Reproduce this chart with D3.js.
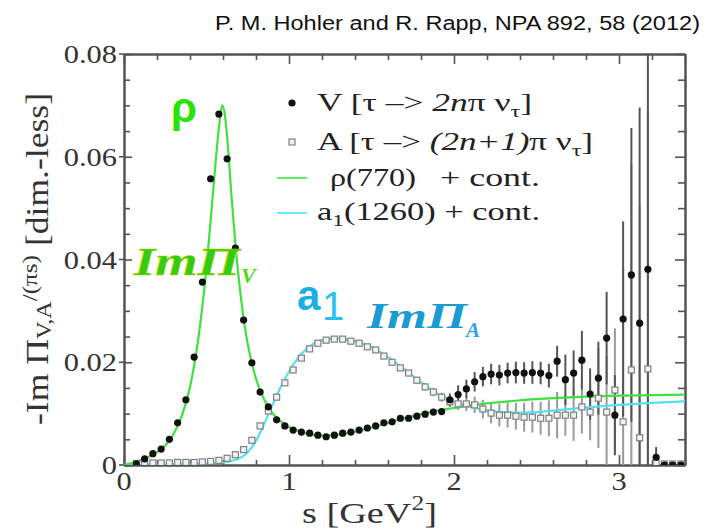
<!DOCTYPE html>
<html>
<head>
<meta charset="utf-8">
<script src="https://cdn.jsdelivr.net/npm/d3@7"></script>
<style>
  html, body { margin: 0; padding: 0; background: #fff; }
  svg { display: block; }
  .serif { font-family: "Liberation Serif", "DejaVu Serif", serif; }
  .sans { font-family: "Liberation Sans", Arial, sans-serif; }
</style>
</head>
<body>
<svg id="chart" width="707" height="531"></svg>
<script>
// Bin centres in s [GeV^2]
const sBins = [0.075,0.125,0.175,0.225,0.275,0.325,0.375,0.425,0.475,0.525,
  0.575,0.625,0.675,0.725,0.775,0.825,0.875,0.925,0.975,1.025,
  1.075,1.125,1.175,1.225,1.275,1.325,1.375,1.425,1.475,1.525,
  1.575,1.625,1.675,1.725,1.775,1.825,1.875,1.925,1.975,2.025,
  2.075,2.125,2.175,2.225,2.275,2.325,2.375,2.425,2.475,2.525,
  2.575,2.625,2.675,2.725,2.775,2.825,2.875,2.925,2.975,3.025,
  3.075,3.125,3.175,3.225,3.275,3.325,3.375];

// Vector channel, tau -> 2n pi nu
const vecVals = [0.0002,0.0012,0.0022,0.0031,0.0050,0.0082,0.0127,0.0210,0.0356,0.0557,
  0.0683,0.0596,0.0422,0.0282,0.0199,0.0142,0.0113,0.0088,0.0076,0.0068,
  0.0064,0.0062,0.0058,0.0055,0.0058,0.0062,0.0064,0.0068,0.0072,0.0076,
  0.0082,0.0084,0.0091,0.0091,0.0095,0.0099,0.0103,0.0104,0.0127,0.0137,
  0.0148,0.0162,0.0172,0.0177,0.0175,0.0179,0.0180,0.0179,0.0180,0.0179,
  0.0174,0.0202,0.0166,0.0179,0.0204,0.0138,0.0169,0.0247,0.0097,0.0284,
  0.0370,0.0276,0.0381,0.0015,0.0,0.0,0.0];
const vecErr = [0,0,0,0,0,0,0,0,0,0,
  0,0,0,0,0,0,0,0,0,0,
  0,0,0,0,0,0,0,0,0,0,
  0,0,0,0,0,0,0,0,0.0012,0.0018,
  0.0018,0.0019,0.0019,0.002,0.002,0.002,0.0021,0.0021,0.0022,0.0022,
  0.0023,0.003,0.0049,0.0044,0.0057,0.005,0.0071,0.009,0.0078,0.019,
  0.0286,0.042,0.05,0.002,0,0,0];

// Axial-vector channel, tau -> (2n+1) pi nu
const axVals = [0.0003,0.0004,0.0004,0.0004,0.0004,0.0005,0.0005,0.0005,0.0006,0.0007,
  0.0009,0.0013,0.0020,0.0030,0.0048,0.0076,0.0105,0.0132,0.0160,0.0185,
  0.0208,0.0226,0.0237,0.0243,0.0245,0.0245,0.0241,0.0237,0.0230,0.0224,
  0.0212,0.0200,0.0189,0.0179,0.0165,0.0152,0.0142,0.0132,0.0123,0.0119,
  0.0119,0.0117,0.0109,0.0101,0.0097,0.0097,0.0095,0.0093,0.0093,0.0091,
  0.0091,0.0097,0.0097,0.0097,0.0113,0.0103,0.0130,0.0103,0.0146,0.0084,
  0.0185,0.0053,0.0187,0.0004,0.0002,0.0002,0.0002];
const axErr = [0,0,0,0,0,0,0,0,0,0,
  0,0,0,0,0,0,0,0,0,0,
  0,0,0,0,0,0,0,0,0,0,
  0,0,0,0.0005,0.0006,0.0007,0.0008,0.0009,0.001,0.0012,
  0.0014,0.0016,0.0018,0.002,0.0022,0.0024,0.0026,0.0028,0.003,0.0032,
  0.0035,0.0045,0.004,0.005,0.0052,0.0055,0.0097,0.011,0.012,0.03,
  0.04,0.045,0.05,0.002,0,0,0];

// rho(770) + continuum spectral function
const rhoS = [0,0.05,0.1,0.15,0.2,0.25,0.3,0.35,0.4,0.45,0.5,0.525,0.55,0.575,0.595,0.612,0.63,0.65,0.675,0.7,
  0.725,0.75,0.8,0.85,0.9,0.95,1.0,1.05,1.1,1.2,1.3,1.4,1.5,1.6,1.7,1.8,1.9,2.0,2.1,2.2,2.3,2.4,2.6,2.8,3.0,3.2,3.4];
const rhoV = [0,0.0004,0.0009,0.0016,0.0025,0.0038,0.0060,0.0095,0.0152,0.0245,0.0385,0.0475,0.0570,0.0655,0.0700,0.0680,0.0620,0.0530,0.0430,0.0350,
  0.0285,0.0235,0.0168,0.0127,0.0101,0.0085,0.0074,0.0067,0.0062,0.0057,0.0059,0.0065,0.0073,0.0082,0.0091,0.0099,0.0106,0.0111,0.0116,0.0120,0.0123,0.0126,0.0130,0.0133,0.0135,0.0136,0.0137];

// a1(1260) + continuum spectral function
const a1S = [0,0.2,0.4,0.5,0.6,0.65,0.7,0.75,0.8,0.85,0.9,0.95,1.0,1.05,1.1,1.15,1.2,1.25,1.3,1.4,
  1.5,1.6,1.7,1.8,1.9,2.0,2.1,2.2,2.3,2.4,2.5,2.6,2.7,2.8,3.0,3.2,3.4];
const a1V = [0,0.0001,0.0002,0.0003,0.0005,0.0008,0.0013,0.0025,0.0047,0.0080,0.0117,0.0152,0.0182,0.0206,0.0224,0.0236,0.0243,0.0246,0.0246,0.0241,
  0.0229,0.0210,0.0186,0.0161,0.0139,0.0123,0.0113,0.0106,0.0103,0.0102,0.0103,0.0106,0.0109,0.0112,0.0117,0.0121,0.0124];

const xTicks = [0,1,2,3];
const xTickLabels = ["0","1","2","3"];
const yTicks = [0,0.02,0.04,0.06,0.08];
const yTickLabels = ["0","0.02","0.04","0.06","0.08"];

const svg = d3.select("#chart");
const x = d3.scaleLinear().domain([0,3.4]).range([124,685]);
const y = d3.scaleLinear().domain([0,0.08]).range([465,54]);

// stretch text horizontally to a target factor or length
function stretchTo(sel, len) {
  sel.attr("textLength", len).attr("lengthAdjust", "spacingAndGlyphs");
}
function stretchBy(sel, k) {
  sel.each(function() {
    const w = this.getComputedTextLength();
    d3.select(this).attr("textLength", w * k).attr("lengthAdjust", "spacingAndGlyphs");
  });
}

svg.append("defs").append("clipPath").attr("id","plotclip")
  .append("rect").attr("x",124).attr("y",54).attr("width",561).attr("height",411);

// ---- axes: inward ticks on all four sides ----
const minorX = d3.range(0, 3.41, 0.2).filter(v => Math.abs(v - Math.round(v)) > 1e-6);
const minorY = d3.range(0, 0.0801, 0.005).filter(v => Math.abs(v/0.02 - Math.round(v/0.02)) > 1e-6);
const axisColor = "#555";

function styleAxis(g) {
  g.select(".domain").attr("stroke", axisColor).attr("stroke-width", 2);
  g.selectAll(".tick line").attr("stroke", axisColor).attr("stroke-width", 1.6);
}
const axG = svg.append("g");
axG.append("g").attr("transform","translate(0,465)")
  .call(d3.axisBottom(x).tickValues(xTicks).tickSize(-10).tickSizeOuter(0).tickFormat("")).call(styleAxis);
axG.append("g").attr("transform","translate(0,465)")
  .call(d3.axisBottom(x).tickValues(minorX).tickSize(-5).tickSizeOuter(0).tickFormat("")).call(styleAxis);
axG.append("g").attr("transform","translate(0,54)")
  .call(d3.axisTop(x).tickValues(xTicks).tickSize(-10).tickSizeOuter(0).tickFormat("")).call(styleAxis);
axG.append("g").attr("transform","translate(0,54)")
  .call(d3.axisTop(x).tickValues(minorX).tickSize(-6).tickSizeOuter(0).tickFormat("")).call(styleAxis);
axG.append("g").attr("transform","translate(124,0)")
  .call(d3.axisLeft(y).tickValues(yTicks).tickSize(-8).tickSizeOuter(0).tickFormat("")).call(styleAxis);
axG.append("g").attr("transform","translate(124,0)")
  .call(d3.axisLeft(y).tickValues(minorY).tickSize(-6).tickSizeOuter(0).tickFormat("")).call(styleAxis);
axG.append("g").attr("transform","translate(685,0)")
  .call(d3.axisRight(y).tickValues(yTicks).tickSize(-10).tickSizeOuter(0).tickFormat("")).call(styleAxis);
axG.append("g").attr("transform","translate(685,0)")
  .call(d3.axisRight(y).tickValues(minorY).tickSize(-7).tickSizeOuter(0).tickFormat("")).call(styleAxis);
// small outward stubs on the left major ticks
axG.append("g").selectAll("line").data(yTicks).join("line")
  .attr("x1",119).attr("x2",124).attr("y1",d=>y(d)).attr("y2",d=>y(d))
  .attr("stroke",axisColor).attr("stroke-width",1.6);

// ---- tick labels ----
svg.append("g").selectAll("text").data(yTicks).join("text")
  .attr("class","serif").attr("x",117).attr("y",d=>y(d)+9)
  .attr("text-anchor","end").attr("font-size",26).attr("fill","#333")
  .text((d,i)=>yTickLabels[i]).call(stretchBy, 1.17);
svg.append("g").selectAll("text").data(xTicks).join("text")
  .attr("class","serif").attr("x",d=>x(d)).attr("y",490)
  .attr("text-anchor","middle").attr("font-size",26).attr("fill","#333")
  .text((d,i)=>xTickLabels[i]).call(stretchBy, 1.17);

// ---- axis titles ----
const yl = svg.append("text").attr("class","serif")
  .attr("transform","translate(48,259) rotate(-90)")
  .attr("text-anchor","middle").attr("font-size",31).attr("fill","#333");
yl.append("tspan").text("-Im \u03A0");
yl.append("tspan").attr("font-size",21).attr("dy",3).text("V,A");
yl.append("tspan").attr("font-size",22).attr("dy",-14).text("/(\u03C0s)");
yl.append("tspan").attr("dy",11).text(" [dim.-less]");
stretchTo(yl, 332);

const xl = svg.append("text").attr("class","serif")
  .attr("x",302).attr("y",523).attr("font-size",30).attr("fill","#333");
xl.append("tspan").text("s [GeV");
xl.append("tspan").attr("font-size",20).attr("dy",-13).text("2");
xl.append("tspan").attr("dy",13).text("]");
stretchTo(xl, 135);

// ---- title line ----
svg.append("text").attr("class","sans").attr("x",215).attr("y",30)
  .attr("font-size",20).attr("fill","#111")
  .text("P. M. Hohler and R. Rapp, NPA 892, 58 (2012)").call(stretchTo, 485);

// ---- data ----
const plot = svg.append("g").attr("clip-path","url(#plotclip)");
const vecPts = sBins.map((s,i)=>({s, v:vecVals[i], e:vecErr[i]}));
const axPts = sBins.map((s,i)=>({s, v:axVals[i], e:axErr[i]}));

plot.append("g").selectAll("line").data(axPts.filter(d=>d.e>0)).join("line")
  .attr("x1",d=>x(d.s)).attr("x2",d=>x(d.s))
  .attr("y1",d=>y(Math.max(0,d.v-d.e))).attr("y2",d=>y(d.v+d.e))
  .attr("stroke","#9a9a9a").attr("stroke-width",2);
plot.append("g").selectAll("line").data(vecPts.filter(d=>d.e>0)).join("line")
  .attr("x1",d=>x(d.s)).attr("x2",d=>x(d.s))
  .attr("y1",d=>y(Math.max(0,d.v-d.e))).attr("y2",d=>y(d.v+d.e))
  .attr("stroke","#555").attr("stroke-width",2);

const line = d3.line().x(d=>x(d[0])).y(d=>y(d[1])).curve(d3.curveMonotoneX);
plot.append("path").datum(a1S.map((s,i)=>[s,a1V[i]]))
  .attr("d",line).attr("fill","none").attr("stroke","#4fe3f2").attr("stroke-width",2.2);
plot.append("path").datum(rhoS.map((s,i)=>[s,rhoV[i]]))
  .attr("d",line).attr("fill","none").attr("stroke","#3fe03f").attr("stroke-width",2.2);

plot.append("g").selectAll("rect").data(axPts).join("rect")
  .attr("x",d=>x(d.s)-3).attr("y",d=>y(d.v)-3).attr("width",6).attr("height",6)
  .attr("fill","#f2f2f2").attr("stroke","#808080").attr("stroke-width",1.2);
plot.append("g").selectAll("circle").data(vecPts).join("circle")
  .attr("cx",d=>x(d.s)).attr("cy",d=>y(d.v)).attr("r",3.6).attr("fill","#111");

// ---- legend ----
const lg = svg.append("g");
lg.append("circle").attr("cx",292).attr("cy",103).attr("r",3.6).attr("fill","#111");
lg.append("rect").attr("x",289).attr("y",139).attr("width",6).attr("height",6)
  .attr("fill","#f2f2f2").attr("stroke","#808080").attr("stroke-width",1.2);
lg.append("line").attr("x1",277).attr("x2",307).attr("y1",178).attr("y2",178)
  .attr("stroke","#66ee66").attr("stroke-width",2);
lg.append("line").attr("x1",277).attr("x2",307).attr("y1",213).attr("y2",213)
  .attr("stroke","#66eeff").attr("stroke-width",2);

const r1 = lg.append("text").attr("class","serif").attr("x",317).attr("y",111).attr("font-size",25).attr("fill","#222");
r1.append("tspan").text("V [\u03C4 \u2013> ");
r1.append("tspan").attr("font-style","italic").text("2n");
r1.append("tspan").text("\u03C0 \u03BD");
r1.append("tspan").attr("font-size",17).attr("dy",6).text("\u03C4");
r1.append("tspan").attr("dy",-6).text("]");
stretchTo(r1, 215);

const r2 = lg.append("text").attr("class","serif").attr("x",317).attr("y",150).attr("font-size",25).attr("fill","#222");
r2.append("tspan").text("A [\u03C4 \u2013> ");
r2.append("tspan").attr("font-style","italic").text("(2n+1)");
r2.append("tspan").text("\u03C0 \u03BD");
r2.append("tspan").attr("font-size",17).attr("dy",6).text("\u03C4");
r2.append("tspan").attr("dy",-6).text("]");
stretchTo(r2, 276);

lg.append("text").attr("class","serif").attr("x",330).attr("y",186).attr("font-size",25).attr("fill","#222")
  .text("\u03C1(770)").call(stretchTo, 86);
lg.append("text").attr("class","serif").attr("x",440).attr("y",186).attr("font-size",25).attr("fill","#222")
  .text("+ cont.").call(stretchTo, 100);

const r4 = lg.append("text").attr("class","serif").attr("x",317).attr("y",220).attr("font-size",25).attr("fill","#222");
r4.append("tspan").text("a");
r4.append("tspan").attr("font-size",17).attr("dy",6).text("1");
r4.append("tspan").attr("dy",-6).text("(1260) + cont.");
stretchTo(r4, 223);

// ---- annotations ----
svg.append("text").attr("class","sans").attr("x",171).attr("y",122)
  .attr("font-size",42).attr("font-weight","bold").attr("fill","#26e600").text("\u03C1");

svg.append("text").attr("class","serif").attr("x",134).attr("y",275)
  .attr("font-size",40).attr("font-weight","bold").attr("font-style","italic")
  .attr("fill","#33cc11").attr("stroke","#b8d400").attr("stroke-width",0.6)
  .text("Im\u03A0").call(stretchTo, 106);
svg.append("text").attr("class","serif").attr("x",241).attr("y",283)
  .attr("font-size",22).attr("font-weight","bold").attr("font-style","italic")
  .attr("fill","#4fd81a").text("V");

svg.append("text").attr("class","sans").attr("x",297).attr("y",310)
  .attr("font-size",42).attr("font-weight","bold").attr("fill","#18aee6").text("a");
svg.append("text").attr("class","sans").attr("x",322).attr("y",320)
  .attr("font-size",40).attr("fill","#2cc0f2").text("1");

svg.append("text").attr("class","serif").attr("x",367).attr("y",328)
  .attr("font-size",36).attr("font-weight","bold").attr("font-style","italic")
  .attr("fill","#1b9bd4").text("Im\u03A0").call(stretchTo, 100);
svg.append("text").attr("class","serif").attr("x",466).attr("y",337)
  .attr("font-size",21).attr("font-weight","bold").attr("font-style","italic")
  .attr("fill","#2aa8e0").text("A");
</script>
</body>
</html>
